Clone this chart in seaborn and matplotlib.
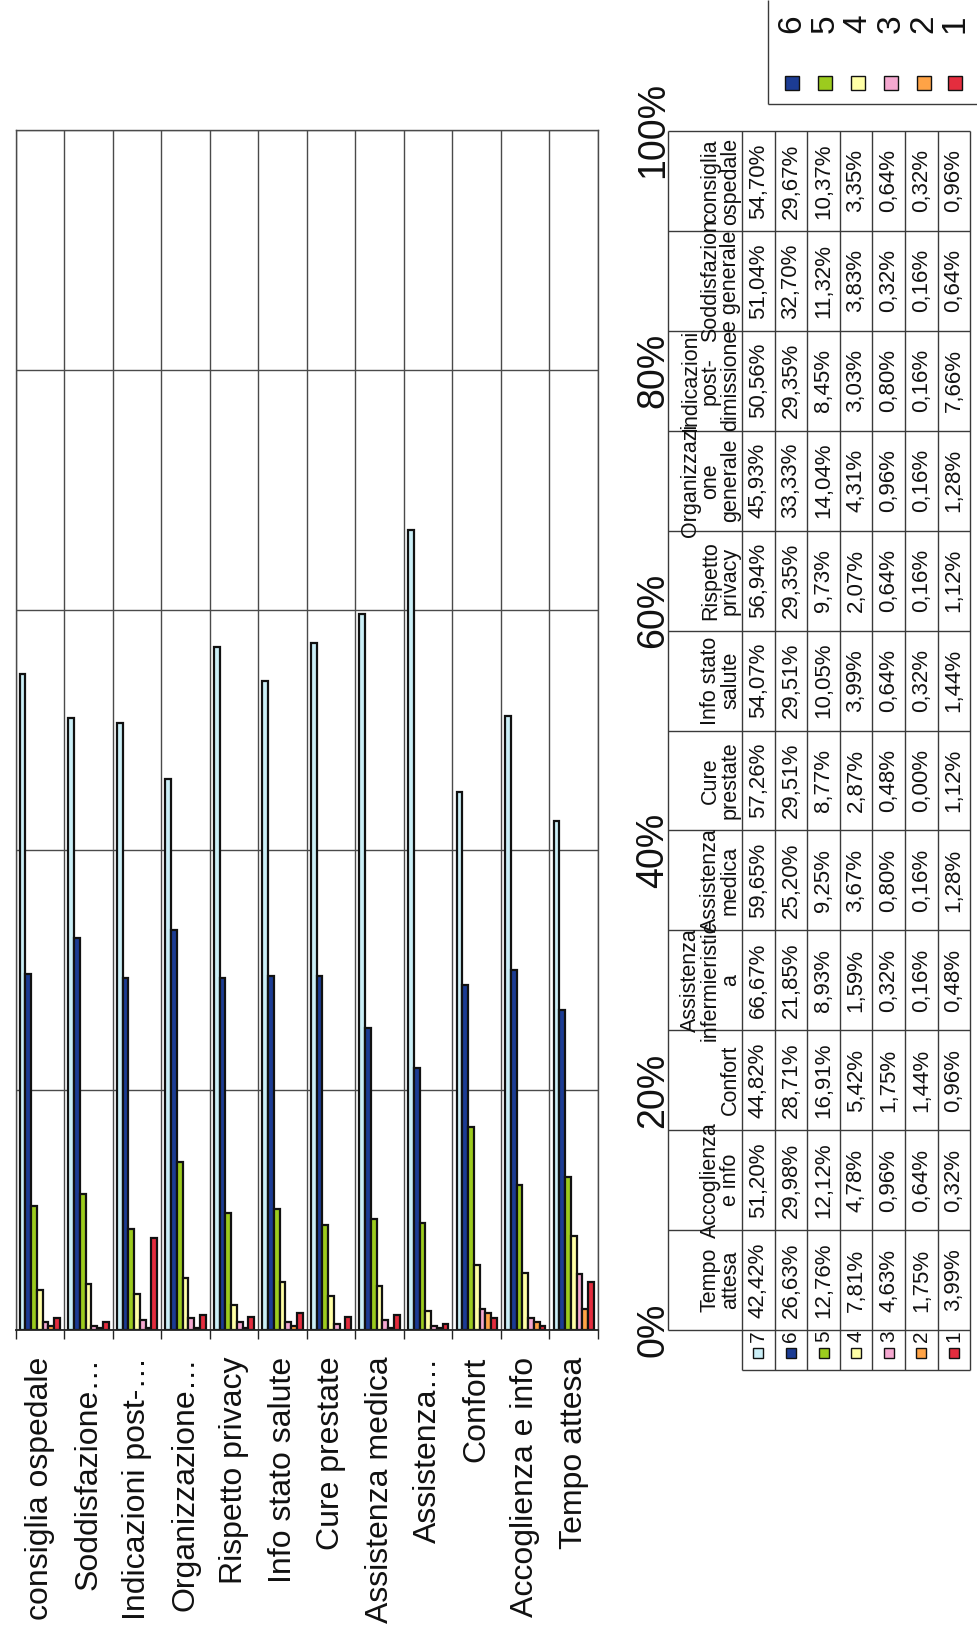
import numpy as np
import pandas as pd
import matplotlib
matplotlib.use("Agg")
import matplotlib.pyplot as plt
from matplotlib.patches import Rectangle
import seaborn as sns

# ---- data -------------------------------------------------------------
categories = ["Tempo attesa", "Accoglienza e info", "Confort",
              "Assistenza infermieristica", "Assistenza medica", "Cure prestate",
              "Info stato salute", "Rispetto privacy", "Organizzazione generale",
              "Indicazioni post-dimissione", "Soddisfazione generale",
              "consiglia ospedale"]
axis_labels = ["Tempo attesa", "Accoglienza e info", "Confort", "Assistenza…",
               "Assistenza medica", "Cure prestate", "Info stato salute",
               "Rispetto privacy", "Organizzazione…", "Indicazioni post-…",
               "Soddisfazione…", "consiglia ospedale"]
table_headers = ["Tempo\nattesa", "Accoglienza\ne info", "Confort",
                 "Assistenza\ninfermieristic\na", "Assistenza\nmedica",
                 "Cure\nprestate", "Info stato\nsalute", "Rispetto\nprivacy",
                 "Organizzazi\none\ngenerale", "Indicazioni\npost-\ndimissione",
                 "Soddisfazion\ne generale", "consiglia\nospedale"]
series = ["7", "6", "5", "4", "3", "2", "1"]
score_7 = [42.42, 51.20, 44.82, 66.67, 59.65, 57.26, 54.07, 56.94, 45.93, 50.56, 51.04, 54.70]
score_6 = [26.63, 29.98, 28.71, 21.85, 25.20, 29.51, 29.51, 29.35, 33.33, 29.35, 32.70, 29.67]
score_5 = [12.76, 12.12, 16.91, 8.93, 9.25, 8.77, 10.05, 9.73, 14.04, 8.45, 11.32, 10.37]
score_4 = [7.81, 4.78, 5.42, 1.59, 3.67, 2.87, 3.99, 2.07, 4.31, 3.03, 3.83, 3.35]
score_3 = [4.63, 0.96, 1.75, 0.32, 0.80, 0.48, 0.64, 0.64, 0.96, 0.80, 0.32, 0.64]
score_2 = [1.75, 0.64, 1.44, 0.16, 0.16, 0.00, 0.32, 0.16, 0.16, 0.16, 0.16, 0.32]
score_1 = [3.99, 0.32, 0.96, 0.48, 1.28, 1.12, 1.44, 1.12, 1.28, 7.66, 0.64, 0.96]
y_ticks = [0, 20, 40, 60, 80, 100]

colors = {"7": "#CBEFF7", "6": "#1C3C94", "5": "#9CCB1E", "4": "#FFFFA6",
          "3": "#F5A8D0", "2": "#FFA346", "1": "#E42D3E"}

scores = dict(zip(series, [score_7, score_6, score_5, score_4, score_3, score_2, score_1]))
df = pd.DataFrame([(c, s, v / 100.0) for s in series for c, v in zip(categories, scores[s])],
                  columns=["categoria", "punteggio", "quota"])

# ---- figure ------------------------------------------------------------
sns.set_theme(style="white")
plt.rcParams["font.family"] = ["Liberation Sans", "DejaVu Sans"]

W, H = 977, 1629
fig = plt.figure(figsize=(W / 100, H / 100), dpi=100)
fig.patch.set_facecolor("white")

# plotting area in pixel terms
px0, px1, py_top, py_bot = 15.6, 598.0, 130.0, 1330.0
ax = fig.add_axes([px0 / W, 1 - py_bot / H, (px1 - px0) / W, (py_bot - py_top) / H])

order = categories[::-1]
sns.barplot(data=df, x="categoria", y="quota", hue="punteggio", order=order,
            hue_order=series, palette=colors, saturation=1, width=0.83,
            edgecolor="#111111", linewidth=1.6, legend=False, ax=ax, errorbar=None)

ax.set_xlim(-0.5, len(order) - 0.5)
ax.set_ylim(0, 1)
ax.set_xlabel("")
ax.set_ylabel("")
ax.set_axisbelow(True)

grid_col = "#4a4a4a"
ax.set_xticks(np.arange(-0.5, len(order), 1), minor=True)
ax.grid(which="minor", axis="x", color=grid_col, lw=1.0)
ax.grid(which="major", axis="x", visible=False)
ax.set_yticks([t / 100 for t in y_ticks], labels=[f"{t}%" for t in y_ticks])
ax.grid(which="major", axis="y", color=grid_col, lw=1.0)

for side in ["left", "right", "top"]:
    ax.spines[side].set_color(grid_col)
    ax.spines[side].set_linewidth(1.0)
ax.spines["bottom"].set_color("#222222")
ax.spines["bottom"].set_linewidth(1.3)

# value axis labels sit on the right, turned sideways
ax.tick_params(axis="y", left=False, right=False, labelleft=False, labelright=True,
               labelsize=27, pad=34, labelrotation=90, colors="#111111")
for lbl in ax.get_yticklabels():
    lbl.set_ha("center")
    lbl.set_va("center")

# category labels below the axis, turned sideways
ax.set_xticks(range(len(order)), labels=axis_labels[::-1])
ax.tick_params(axis="x", which="major", length=0, pad=19, labelsize=23,
               labelrotation=90, colors="#111111")
ax.tick_params(axis="x", which="minor", bottom=True, length=6.5, width=1.0,
               color="#222222", direction="out")
for lbl in ax.get_xticklabels():
    lbl.set_ha("center")
    lbl.set_va("top")

# ---- data table and legend (drawn in pixel coordinates) ----------------
ov = fig.add_axes([0, 0, 1, 1])
ov.set_xlim(0, W)
ov.set_ylim(H, 0)
ov.axis("off")

line_kw = dict(color="#3a3a3a", lw=1.0, solid_capstyle="butt")
tx0, tx1, rw = 668.0, 742.0, 32.6
tx_end = tx1 + rw * len(series)
ty0, ty1, key_bot = 131.0, 1330.0, 1370.0
ch = (ty1 - ty0) / len(order)

for k in range(len(order) + 1):
    yy = ty0 + k * ch
    ov.plot([tx0, tx_end], [yy, yy], **line_kw)
ov.plot([tx1, tx_end], [key_bot, key_bot], **line_kw)
ov.plot([tx0, tx0], [ty0, ty1], **line_kw)
for j in range(len(series) + 1):
    xx = tx1 + j * rw
    ov.plot([xx, xx], [ty0, key_bot], **line_kw)

for r, cat in enumerate(order):
    i = categories.index(cat)
    yc = ty0 + (r + 0.5) * ch
    ov.text(tx1 - 1.0, yc, table_headers[i], rotation=90, ha="right", va="center",
            multialignment="center", fontsize=15.5, color="#111111", linespacing=0.95)
    for j, s in enumerate(series):
        val = f"{scores[s][i]:.2f}%".replace(".", ",")
        ov.text(tx1 + (j + 0.5) * rw, yc, val, rotation=90, ha="center", va="center",
                fontsize=16, color="#111111")

for j, s in enumerate(series):
    xc = tx1 + (j + 0.5) * rw
    ov.add_patch(Rectangle((xc - 5, 1348), 10, 10, facecolor=colors[s],
                           edgecolor="#111111", lw=1.0))
    ov.text(xc, 1336, s, rotation=90, ha="center", va="center", fontsize=15,
            color="#111111")

# legend box at the top right edge
ov.plot([768, 768], [0, 104], **line_kw)
ov.plot([768, W], [104, 104], **line_kw)
legend_x = [792, 825, 858, 891, 924, 955]
for xc, s in zip(legend_x, series[1:]):
    ov.add_patch(Rectangle((xc - 7, 76), 14, 14, facecolor=colors[s],
                           edgecolor="#111111", lw=1.0))
    ov.text(xc, 24, s, rotation=90, ha="center", va="center", fontsize=24,
            color="#111111")

fig.savefig("out.png", dpi=100, facecolor="white")
